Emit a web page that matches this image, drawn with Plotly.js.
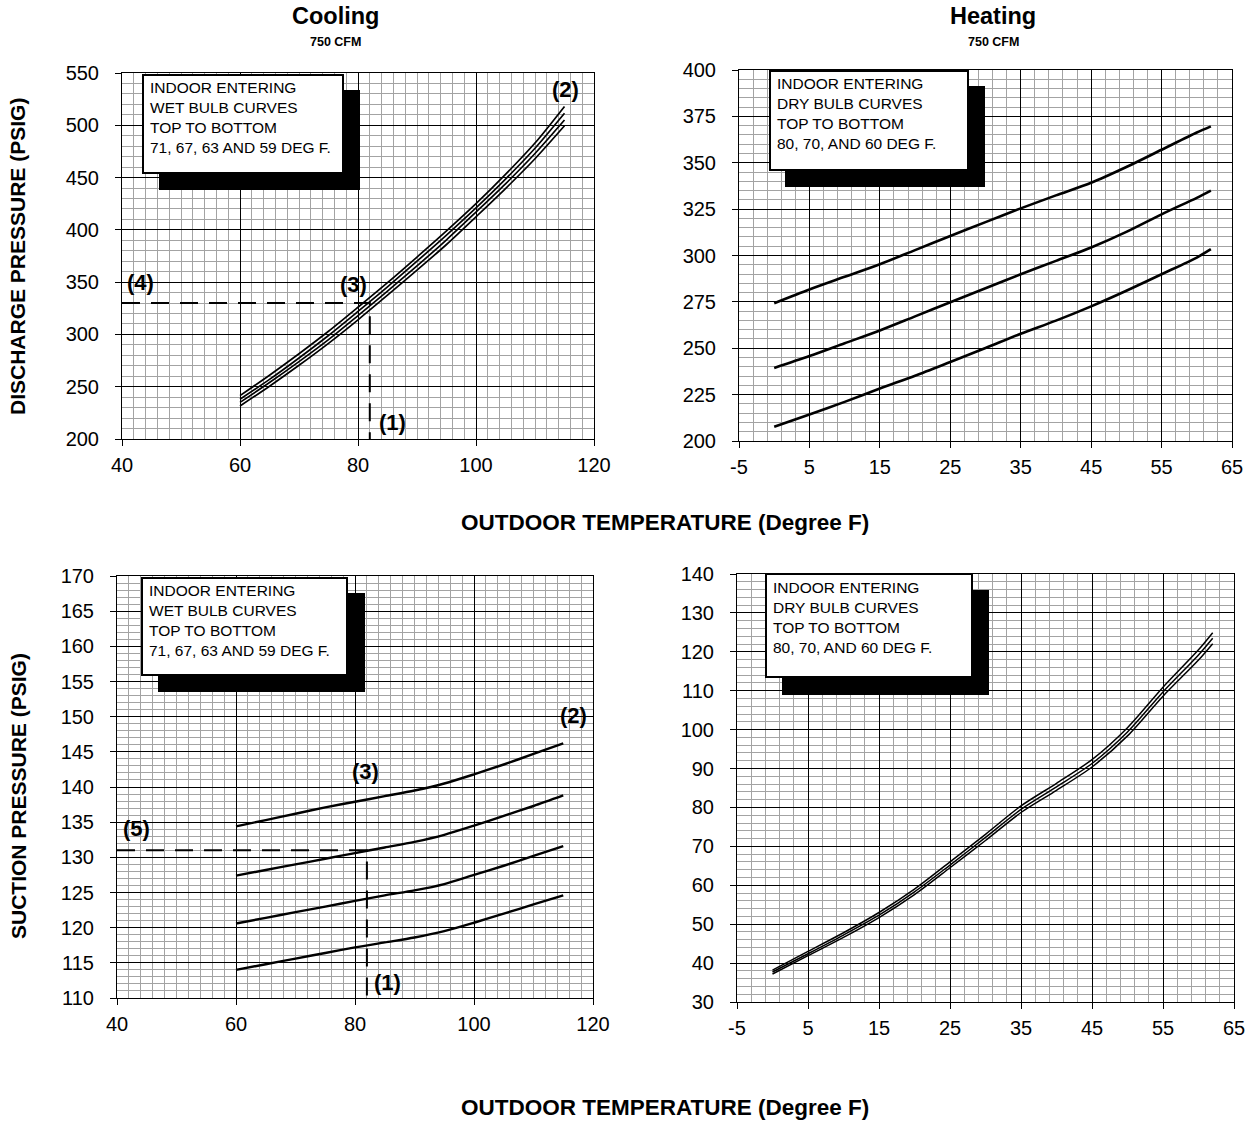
<!DOCTYPE html>
<html>
<head>
<meta charset="utf-8">
<script src="https://cdn.plot.ly/plotly-3.0.1.min.js"></script>
<style>html,body{margin:0;padding:0;background:#fff;}#chart{width:1249px;height:1122px;}</style>
</head>
<body>
<div id="chart"></div>
<script>
// ---------- DATA ----------
const coolX = [60, 65, 70, 75, 80, 85, 90, 95, 100, 105, 110, 115];
// Cooling discharge pressure (psig), indoor wet bulb 71/67/63/59 F
const coolDis71 = [241.5, 261, 281.5, 303, 326, 349.5, 374, 399, 425, 453, 483, 518];
const coolDis67 = [238, 257, 277.5, 299, 322, 345.5, 370, 395, 421, 448.5, 478, 511.5];
const coolDis63 = [235, 254, 274, 295, 318, 341.5, 365.5, 390.5, 417, 444, 473, 505];
const coolDis59 = [231.5, 250.5, 270.5, 291.5, 314, 337.5, 361.5, 386, 412.5, 439.5, 468, 499.5];
// Cooling suction pressure (psig)
const coolSuc71 = [134.4, 135.3, 136.2, 137.1, 137.9, 138.7, 139.5, 140.5, 141.8, 143.2, 144.7, 146.2];
const coolSuc67 = [127.4, 128.2, 129.0, 129.8, 130.6, 131.4, 132.2, 133.2, 134.5, 135.9, 137.3, 138.8];
const coolSuc63 = [120.6, 121.4, 122.2, 123.0, 123.8, 124.6, 125.3, 126.2, 127.5, 128.8, 130.2, 131.6];
const coolSuc59 = [114.0, 114.8, 115.6, 116.4, 117.2, 117.9, 118.6, 119.5, 120.7, 122.0, 123.3, 124.6];

const heatX = [0, 5, 10, 15, 20, 25, 30, 35, 40, 45, 50, 55, 60, 62];
// Heating discharge pressure (psig), indoor dry bulb 80/70/60 F
const heatDis80 = [274.3, 281.7, 288.5, 295.3, 302.9, 310.5, 318.0, 325.4, 332.4, 339.2, 347.7, 357.0, 366.3, 369.6];
const heatDis70 = [239.4, 245.8, 252.7, 259.6, 267.2, 274.8, 282.3, 289.9, 297.1, 304.3, 312.7, 322.2, 331.1, 335.0];
const heatDis60 = [207.7, 214.3, 221.1, 228.3, 235.2, 242.6, 250.1, 257.8, 264.9, 272.6, 281.0, 289.9, 298.9, 303.4];
// Heating suction pressure (psig)
const heatSuc80 = [38.2, 43.0, 47.8, 53.0, 59.0, 66.0, 73.1, 80.4, 86.2, 92.3, 100.5, 110.9, 120.5, 124.9];
const heatSuc70 = [37.7, 42.4, 47.2, 52.3, 58.3, 65.2, 72.3, 79.5, 85.3, 91.3, 99.4, 109.7, 119.2, 123.5];
const heatSuc60 = [37.2, 41.9, 46.6, 51.7, 57.6, 64.5, 71.5, 78.7, 84.4, 90.4, 98.4, 108.6, 117.9, 122.1];

// Example read-off lines (dashed)
const exDisX = [40, 82, 82];
const exDisY = [330, 330, 200];
const exSucX = [40, 82, 82];
const exSucY = [131, 131, 110];

// Heating x-axis tick labels (plain hyphen as in the original)
const heatTickVals = [-5, 5, 15, 25, 35, 45, 55, 65];
const heatTickText = ["-5", "5", "15", "25", "35", "45", "55", "65"];

const boxCoolText = ["INDOOR ENTERING", "WET BULB CURVES", "TOP TO BOTTOM", "71, 67, 63 AND 59 DEG F."];
const boxHeatText = ["INDOOR ENTERING", "DRY BULB CURVES", "TOP TO BOTTOM", "80, 70, AND 60 DEG F."];

// ---------- LAYOUT HELPERS ----------
const W = 1249, H = 1122;
const PX = v => v / W;
const PY = v => 1 - v / H;
const FONT = "Liberation Sans, Arial, Helvetica, sans-serif";

function axis(d0, d1, range, dtick, tick0, minorDtick, anchor, standoff) {
  return {
    domain: [d0, d1], range: range, tickmode: 'linear', dtick: dtick, tick0: tick0,
    anchor: anchor, ticks: 'outside', ticklen: 6, tickwidth: 1, tickcolor: '#000',
    ticklabelstandoff: standoff,
    showline: true, linecolor: '#000', linewidth: 1, mirror: true,
    showgrid: true, gridcolor: '#000', gridwidth: 1, zeroline: false,
    minor: {dtick: minorDtick, tick0: tick0, showgrid: true, gridcolor: '#a3a3a3', gridwidth: 1, ticks: ''},
    tickfont: {family: FONT, size: 20, color: '#000'}, fixedrange: true
  };
}
function heatXAxis(d0, d1, anchor) {
  const a = axis(d0, d1, [-5, 65], 10, -5, 2, anchor, 2);
  a.tickmode = 'array';
  a.tickvals = heatTickVals;
  a.ticktext = heatTickText;
  return a;
}

function line(x, y, xa, ya, w) {
  return {x: x, y: y, xaxis: xa, yaxis: ya, type: 'scatter', mode: 'lines', hoverinfo: 'skip',
          line: {color: '#000', width: w, shape: 'spline', smoothing: 0.8}};
}
function dashed(x, y, xa, ya) {
  return {x: x, y: y, xaxis: xa, yaxis: ya, type: 'scatter', mode: 'lines', hoverinfo: 'skip',
          line: {color: '#000', width: 2, dash: '18px,11px'}};
}

const data = [
  line(coolX, coolDis71, 'x', 'y', 1.7), line(coolX, coolDis67, 'x', 'y', 1.7),
  line(coolX, coolDis63, 'x', 'y', 1.7), line(coolX, coolDis59, 'x', 'y', 1.7),
  dashed(exDisX, exDisY, 'x', 'y'),
  line(heatX, heatDis80, 'x2', 'y2', 2.6), line(heatX, heatDis70, 'x2', 'y2', 2.6), line(heatX, heatDis60, 'x2', 'y2', 2.6),
  line(coolX, coolSuc71, 'x3', 'y3', 2.4), line(coolX, coolSuc67, 'x3', 'y3', 2.4),
  line(coolX, coolSuc63, 'x3', 'y3', 2.4), line(coolX, coolSuc59, 'x3', 'y3', 2.4),
  dashed(exSucX, exSucY, 'x3', 'y3'),
  line(heatX, heatSuc80, 'x4', 'y4', 1.5), line(heatX, heatSuc70, 'x4', 'y4', 1.5), line(heatX, heatSuc60, 'x4', 'y4', 1.5)
];

// box geometry in pixels: [white box l,t,r,b], [shadow l,t,r,b], text left/top
const boxes = [
  {w: [143, 75, 343, 173], s: [159, 90, 360, 190], t: [148, 77], text: boxCoolText},
  {w: [770, 71, 968, 170], s: [785, 86, 985, 187], t: [775, 73], text: boxHeatText},
  {w: [142, 578, 347, 675], s: [158, 593, 365, 692], t: [147, 580], text: boxCoolText},
  {w: [766, 574, 972, 677], s: [782, 590, 989, 695], t: [771, 577], text: boxHeatText}
];

const shapes = [];
const annotations = [];
boxes.forEach(b => {
  shapes.push({type: 'rect', xref: 'paper', yref: 'paper', layer: 'above',
    x0: PX(b.s[0]), y0: PY(b.s[1]), x1: PX(b.s[2]), y1: PY(b.s[3]),
    fillcolor: '#000', line: {width: 0}});
  shapes.push({type: 'rect', xref: 'paper', yref: 'paper', layer: 'above',
    x0: PX(b.w[0]), y0: PY(b.w[1]), x1: PX(b.w[2]), y1: PY(b.w[3]),
    fillcolor: '#fff', line: {color: '#000', width: 2}});
  annotations.push({xref: 'paper', yref: 'paper', x: PX(b.t[0]), y: PY(b.t[1]),
    xanchor: 'left', yanchor: 'top', align: 'left', showarrow: false,
    text: b.text.join('<br>'), font: {family: FONT, size: 15.5, color: '#000'}});
});

function label(t, x, y) {
  annotations.push({xref: 'paper', yref: 'paper', x: PX(x), y: PY(y), xanchor: 'center', yanchor: 'middle',
    showarrow: false, text: '<b>' + t + '</b>', font: {family: FONT, size: 22, color: '#000'}});
}
label('(4)', 140, 283); label('(3)', 354, 284); label('(2)', 565, 89); label('(1)', 392, 423);
label('(5)', 136, 828); label('(3)', 365, 771); label('(2)', 573, 715); label('(1)', 387, 982);

function txt(t, x, y, size, angle) {
  annotations.push({xref: 'paper', yref: 'paper', x: PX(x), y: PY(y), xanchor: 'center', yanchor: 'middle',
    showarrow: false, textangle: angle || 0, text: '<b>' + t + '</b>', font: {family: FONT, size: size, color: '#000'}});
}
txt('Cooling', 335, 16, 23.5);
txt('750 CFM', 335, 42, 12.5);
txt('Heating', 993, 16, 23.5);
txt('750 CFM', 993, 42, 12.5);
txt('DISCHARGE PRESSURE (PSIG)', 18, 257, 21, -90);
txt('SUCTION PRESSURE (PSIG)', 18, 796, 21, -90);
txt('OUTDOOR TEMPERATURE (Degree F)', 665, 522, 22.5);
txt('OUTDOOR TEMPERATURE (Degree F)', 665, 1107, 22.5);

const layout = {
  width: W, height: H, margin: {l: 0, r: 0, t: 0, b: 0},
  paper_bgcolor: '#fff', plot_bgcolor: '#fff', showlegend: false,
  font: {family: FONT, color: '#000'},
  xaxis: axis(PX(122), PX(594), [40, 120], 20, 40, 2, 'y', 2),
  yaxis: axis(PY(439), PY(73), [200, 550], 50, 200, 10, 'x', 12),
  xaxis2: heatXAxis(PX(739), PX(1232), 'y2'),
  yaxis2: axis(PY(441), PY(70), [200, 400], 25, 200, 5, 'x2', 12),
  xaxis3: axis(PX(117), PX(593), [40, 120], 20, 40, 2, 'y3', 2),
  yaxis3: axis(PY(998), PY(576), [110, 170], 5, 110, 1, 'x3', 12),
  xaxis4: heatXAxis(PX(737), PX(1234), 'y4'),
  yaxis4: axis(PY(1002), PY(574), [30, 140], 10, 30, 2, 'x4', 12),
  shapes: shapes,
  annotations: annotations
};

Plotly.newPlot('chart', data, layout, {staticPlot: true, displayModeBar: false});
</script>
</body>
</html>
